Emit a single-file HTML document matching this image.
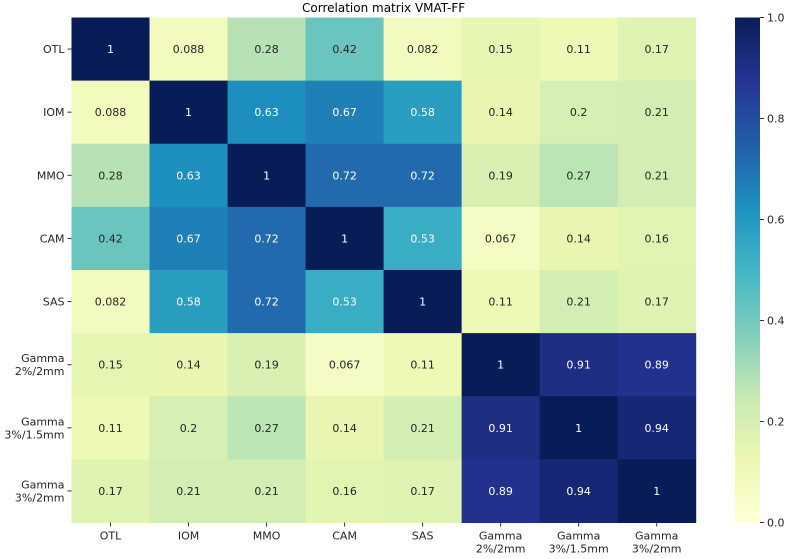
<!DOCTYPE html>
<html><head><meta charset="utf-8"><style>
body{margin:0;background:#fff;font-family:"DejaVu Sans","Liberation Sans",sans-serif}
</style></head><body>
<svg id="c" width="787" height="555" font-family="DejaVu Sans, Liberation Sans, sans-serif"></svg>
<script>
const labels=["OTL","IOM","MMO","CAM","SAS","Gamma\n2%/2mm","Gamma\n3%/1.5mm","Gamma\n3%/2mm"];
const values=[
[1,0.088,0.28,0.42,0.082,0.15,0.11,0.17],
[0.088,1,0.63,0.67,0.58,0.14,0.2,0.21],
[0.28,0.63,1,0.72,0.72,0.19,0.27,0.21],
[0.42,0.67,0.72,1,0.53,0.067,0.14,0.16],
[0.082,0.58,0.72,0.53,1,0.11,0.21,0.17],
[0.15,0.14,0.19,0.067,0.11,1,0.91,0.89],
[0.11,0.2,0.27,0.14,0.21,0.91,1,0.94],
[0.17,0.21,0.21,0.16,0.17,0.89,0.94,1]];
const cbTicks=[0,0.2,0.4,0.6,0.8,1.0];
const ns="http://www.w3.org/2000/svg",svg=document.getElementById('c');
const L=71.5,T=17.5,R=695.7,B=522.5,n=labels.length,cw=(R-L)/n,ch=(B-T)/n;
const stops=["#ffffd9","#edf8b1","#c7e9b4","#7fcdbb","#41b6c4","#1d91c0","#225ea8","#253494","#081d58"];
function hex(h){return [1,3,5].map(i=>parseInt(h.substr(i,2),16));}
function cmap(v){v=Math.max(0,Math.min(1,v));const p=v*8,i=Math.min(7,Math.floor(p)),f=p-i;const a=hex(stops[i]),b=hex(stops[i+1]);return `rgb(${a.map((x,k)=>Math.round(x+(b[k]-x)*f)).join(',')})`;}
function el(t,a,txt){const e=document.createElementNS(ns,t);for(const k in a)e.setAttribute(k,a[k]);if(txt!==undefined)e.textContent=txt;svg.appendChild(e);return e;}
const xs=i=>L+i*cw, ys=j=>T+j*ch;
const title=el('text',{x:(L+R)/2,y:12,'text-anchor':'middle','font-size':12},'Correlation matrix VMAT-FF');


values.forEach((row,j)=>row.forEach((v,i)=>{
 const r=el('rect',{x:xs(i),y:ys(j),width:cw+0.5,height:ch+0.5,fill:cmap(v)});
 
 
 const t=el('text',{x:xs(i)+cw/2,y:ys(j)+ch/2+4,'text-anchor':'middle','font-size':11,fill:v>0.5?'#fff':'#262626'},String(v));
 
 
}));
labels.forEach((lb,k)=>{
 const parts=lb.split('\n');
 const yc=ys(k)+ch/2;
 el('line',{x1:L-4,x2:L,y1:yc,y2:yc,stroke:'#333'});
 parts.forEach((p,q)=>{const t=el('text',{x:L-7,y:yc+4+(q-(parts.length-1)/2)*13,'text-anchor':'end','font-size':11,fill:'#262626'},p);
 
 });
 const xc=xs(k)+cw/2;
 el('line',{x1:xc,x2:xc,y1:B,y2:B+4,stroke:'#333'});
 parts.forEach((p,q)=>{const t=el('text',{x:xc,y:B+17+q*13,'text-anchor':'middle','font-size':11,fill:'#262626'},p);
 
 });
});
const CX=735,CW=25;
const defs=el('defs',{});const g=document.createElementNS(ns,'linearGradient');
g.setAttribute('id','cg');g.setAttribute('x1','0');g.setAttribute('y1','1');g.setAttribute('x2','0');g.setAttribute('y2','0');
stops.forEach((s,i)=>{const st=document.createElementNS(ns,'stop');st.setAttribute('offset',i/8);st.setAttribute('stop-color',s);g.appendChild(st);});
defs.appendChild(g);
const cb=el('rect',{x:CX,y:T,width:CW,height:B-T,fill:'url(#cg)'});


cbTicks.forEach(v=>{const y=B-v*(B-T);
 el('line',{x1:CX+CW,x2:CX+CW+4,y1:y,y2:y,stroke:'#333'});
 const t=el('text',{x:CX+CW+7,y:y+4,'font-size':11,fill:'#262626'},v.toFixed(1));
 
 });
</script>
</body></html>
